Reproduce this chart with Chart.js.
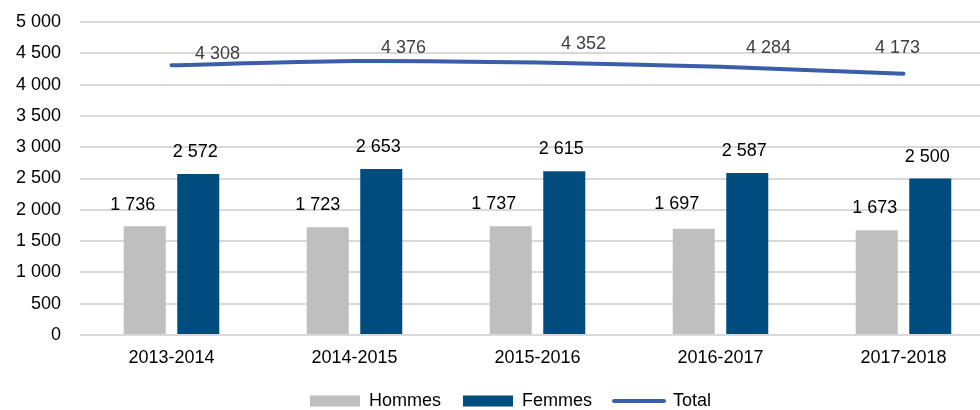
<!DOCTYPE html>
<html>
<head>
<meta charset="utf-8">
<script src="https://cdn.jsdelivr.net/npm/chart.js@4"></script>
<style>
  html, body { margin: 0; padding: 0; background: #fff; overflow: hidden; }
  #wrap { width: 1020px; height: 410px; }
</style>
</head>
<body>
<div id="wrap"><canvas id="myChart" width="1020" height="410"></canvas></div>
<script>
// Data -----------------------------------------
var years = ['2013-2014', '2014-2015', '2015-2016', '2016-2017', '2017-2018'];
var hommes = [1736, 1723, 1737, 1697, 1673];
var femmes = [2572, 2653, 2615, 2587, 2500];
var total = [4308, 4376, 4352, 4284, 4173];
var yTicks = [0, 500, 1000, 1500, 2000, 2500, 3000, 3500, 4000, 4500, 5000];

var FONT = '"Liberation Sans", Arial, sans-serif';

function fmt(v) {
  return String(v).replace(/\B(?=(\d{3})+(?!\d))/g, ' ');
}

// value labels, nudged like in the original chart
var valueLabels = {
  id: 'valueLabels',
  afterDatasetsDraw: function (chart, args, opts) {
    var ctx = chart.ctx;
    ctx.save();
    ctx.font = '18px ' + FONT;
    ctx.textAlign = 'center';
    ctx.textBaseline = 'alphabetic';
    chart.data.datasets.forEach(function (ds, di) {
      var meta = chart.getDatasetMeta(di);
      var shift = opts.shift[di];
      ctx.fillStyle = opts.colors[di];
      meta.data.forEach(function (el, i) {
        ctx.fillText(fmt(ds.data[i]), el.x + shift.dx[i], el.y - shift.dy[i]);
      });
    });
    ctx.restore();
  }
};

// legend band: short, and moved a bit right / up
var legendPlace = {
  id: 'legendPlace',
  beforeInit: function (chart) {
    var lg = chart.legend;
    if (!lg) return;
    var fit = lg.fit;
    lg.fit = function () {
      fit.call(this);
      this.height = 35;
    };
  },
  afterLayout: function (chart) {
    var lg = chart.legend;
    if (!lg) return;
    lg.left += 13; lg.right += 13;
    lg.top -= 5;
  }
};

var ctx = document.getElementById('myChart').getContext('2d');
var myChart = new Chart(ctx, {
  type: 'bar',
  data: {
    labels: years,
    datasets: [{
      label: 'Hommes',
      data: hommes,
      backgroundColor: '#bfbfbf',
      categoryPercentage: 0.585,
      barPercentage: 0.785,
      order: 2
    }, {
      label: 'Femmes',
      data: femmes,
      backgroundColor: '#004c7f',
      categoryPercentage: 0.585,
      barPercentage: 0.785,
      order: 3
    }, {
      type: 'line',
      label: 'Total',
      data: total,
      borderColor: '#3a5ea8',
      backgroundColor: '#3a5ea8',
      borderWidth: 4,
      borderCapStyle: 'round',
      tension: 0.25,
      pointRadius: 0,
      fill: false,
      order: 1
    }]
  },
  options: {
    responsive: false,
    animation: false,
    layout: { padding: { left: 0, right: 25, top: 22, bottom: 0 } },
    scales: {
      x: {
        afterFit: function (axis) { axis.height = 40; },
        grid: { display: false, drawTicks: false },
        border: { display: false },
        ticks: { color: '#000', font: { family: FONT, size: 18 }, padding: 12, maxRotation: 0 }
      },
      y: {
        min: 0,
        max: 5000,
        afterFit: function (axis) {
          axis.width = 80;
          axis.paddingTop = 0;
          axis.paddingBottom = 0;
        },
        afterBuildTicks: function (axis) {
          axis.ticks = yTicks.map(function (v) { return { value: v }; });
        },
        grid: { color: '#d9d9d9', lineWidth: 2, drawTicks: false },
        border: { display: false },
        ticks: {
          color: '#000',
          padding: 19,
          font: { family: FONT, size: 18 },
          callback: function (v) { return fmt(v); }
        }
      }
    },
    plugins: {
      tooltip: { enabled: false },
      legend: {
        position: 'bottom',
        labels: {
          color: '#000',
          font: { family: FONT, size: 18 },
          usePointStyle: true,
          pointStyleWidth: 50,
          boxHeight: 11,
          padding: 22,
          generateLabels: function (chart) {
            var items = Chart.defaults.plugins.legend.labels.generateLabels(chart);
            items.sort(function (a, b) { return a.datasetIndex - b.datasetIndex; });
            items.forEach(function (it) {
              if (it.datasetIndex === 2) {
                it.pointStyle = 'line';
                it.lineWidth = 4;
                it.strokeStyle = '#3a5ea8';
                it.lineCap = 'round';
              } else {
                it.pointStyle = 'rect';
                it.lineWidth = 0;
              }
            });
            return items;
          }
        }
      },
      valueLabels: {
        colors: ['#000', '#000', '#404040'],
        shift: [
          { dx: [-12, -10, -17, -17, -2], dy: [16, 17, 17, 20, 17] },
          { dx: [-3, -3, -3, -3, -3], dy: [17, 17, 17, 17, 17] },
          { dx: [46, 49, 46, 48, -6], dy: [6, 8, 14, 14, 21] }
        ]
      }
    }
  },
  plugins: [valueLabels, legendPlace]
});
</script>
</body>
</html>
